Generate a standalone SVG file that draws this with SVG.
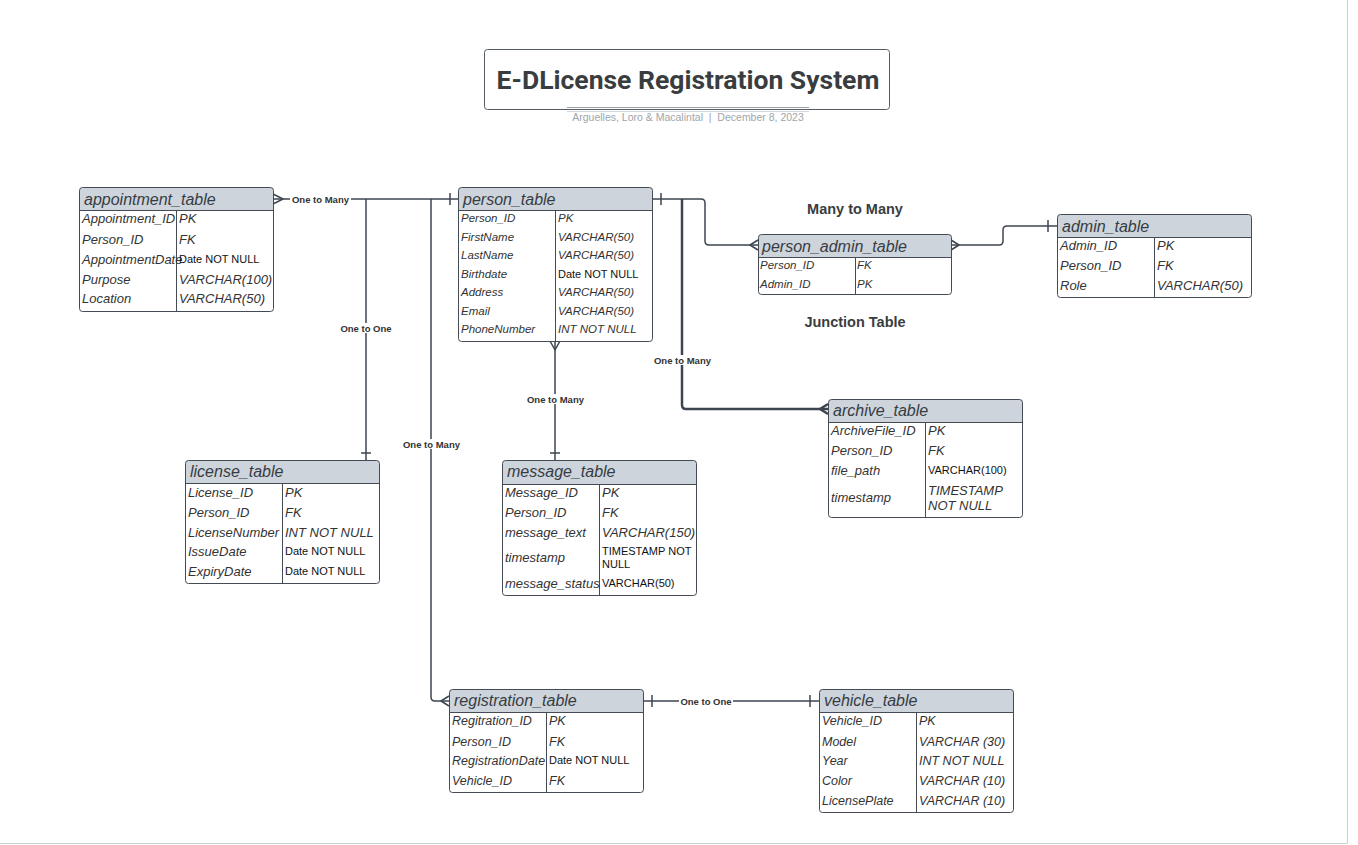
<svg xmlns="http://www.w3.org/2000/svg" width="1358" height="845" viewBox="0 0 1358 845">
<style>
.box{fill:none;stroke:#444b55;stroke-width:1}
.bg{fill:#ffffff}
.hd{fill:#ced4db}
.sep{stroke:#444b55;stroke-width:1}
.h{font-family:"Liberation Sans",Arial,sans-serif;font-style:italic;font-size:16px;fill:#363c44}
.r{font-family:"Liberation Sans",Arial,sans-serif;font-style:italic;font-size:13px;fill:#333333}
.s{font-size:11.5px}
.m{font-size:12.5px}
.n{font-family:"Liberation Sans",Arial,sans-serif;font-size:11px;fill:#111111}
.ln{fill:none;stroke:#3d4550;stroke-width:1.5;stroke-linejoin:round}
.thick{stroke-width:2.5}
.lbg{fill:#ffffff}
.lb{font-family:"Liberation Sans",Arial,sans-serif;font-weight:bold;font-size:9.5px;fill:#333333;text-anchor:middle}
.big{font-family:"Liberation Sans",Arial,sans-serif;font-weight:bold;font-size:14.5px;fill:#3a3d40;text-anchor:middle}
</style>
<rect x="0" y="0" width="1358" height="845" fill="#ffffff"/>
<line x1="1347.5" y1="0" x2="1347.5" y2="843.5" stroke="#d0d0d0" stroke-width="1"/>
<line x1="0" y1="843.5" x2="1347.5" y2="843.5" stroke="#d0d0d0" stroke-width="1"/>

<g id="title">
<rect x="484.5" y="49.5" width="405" height="60" rx="3" fill="#ffffff" stroke="#555b63" stroke-width="1"/>
<text x="688" y="89" font-family="Roboto,'Liberation Sans',sans-serif" font-weight="bold" font-size="26.5" fill="#3a3d40" text-anchor="middle">E-DLicense Registration System</text>
<line x1="567" y1="107.5" x2="809" y2="107.5" stroke="#9aa0a6" stroke-width="1"/>
<line x1="567" y1="111.5" x2="809" y2="111.5" stroke="#d4d8dc" stroke-width="1"/>
<text x="688" y="121" font-family="'Liberation Sans',Arial,sans-serif" font-size="10.5" fill="#a0a5ab" text-anchor="middle">Arguelles, Loro &amp; Macalintal &#160;|&#160; December 8, 2023</text>
</g>

<g id="connectors">
<path class="ln" d="M273,199 H458"/>
<path class="ln" d="M273,194 L283,199 L273,204"/>
<path class="ln" d="M450,193 V205"/>
<rect class="lbg" x="290" y="194" width="61" height="10"/>
<text class="lb" x="320.5" y="202.5">One to Many</text>
<path class="ln" d="M366,199 V460"/>
<path class="ln" d="M361,453 H371"/>
<rect class="lbg" x="339" y="323" width="54" height="10"/>
<text class="lb" x="366" y="331.5">One to One</text>
<path class="ln" d="M431,199 V697 Q431,701 435,701 H449"/>
<path class="ln" d="M449,696 L441,701 L449,706"/>
<rect class="lbg" x="401" y="439" width="61" height="10"/>
<text class="lb" x="431.5" y="447.5">One to Many</text>
<path class="ln" d="M555,341 V460"/>
<path class="ln" d="M550,341 L555,350 L560,341"/>
<path class="ln" d="M550,453 H560"/>
<rect class="lbg" x="525" y="394" width="61" height="10"/>
<text class="lb" x="555.5" y="402.5">One to Many</text>
<path class="ln" d="M652,199 H701 Q705,199 705,203 V241 Q705,245 709,245 H758"/>
<path class="ln" d="M661,193 V205"/>
<path class="ln" d="M758,240 L750,245 L758,250"/>
<path class="ln thick" d="M682,199 V405 Q682,409 686,409 H828"/>
<path class="ln thick" d="M828,404 L820,409 L828,414"/>
<rect class="lbg" x="652" y="355" width="61" height="10"/>
<text class="lb" x="682.5" y="363.5">One to Many</text>
<path class="ln" d="M951,245 H999 Q1003,245 1003,241 V230 Q1003,226 1007,226 H1057"/>
<path class="ln" d="M951,240 L959,245 L951,250"/>
<path class="ln" d="M1048,220 V232"/>
<path class="ln" d="M643,701 H819"/>
<path class="ln" d="M652,695 V707"/>
<path class="ln" d="M810,695 V707"/>
<rect class="lbg" x="679" y="696" width="54" height="10"/>
<text class="lb" x="706" y="704.5">One to One</text>
<text class="big" x="855" y="214">Many to Many</text>
<text class="big" x="855" y="327">Junction Table</text>
</g>

<g id="appointment_table">
<rect class="bg" x="79.5" y="187.5" width="194" height="124" rx="3"/>
<path class="hd" d="M79.5,210.5 V190.5 Q79.5,187.5 82.5,187.5 H270.5 Q273.5,187.5 273.5,190.5 V210.5 Z"/>
<rect class="box" x="79.5" y="187.5" width="194" height="124" rx="3"/>
<line class="sep" x1="79.5" y1="210.5" x2="273.5" y2="210.5"/>
<line class="sep" x1="176.5" y1="210.5" x2="176.5" y2="311.5"/>
<text class="h" x="84" y="204.5">appointment_table</text>
<text class="r" x="82" y="222.5">Appointment_ID</text><text class="r" x="179" y="222.5">PK</text>
<text class="r" x="82" y="243.5">Person_ID</text><text class="r" x="179" y="243.5">FK</text>
<text class="r" x="82" y="263.5">AppointmentDate</text><text class="n" x="179" y="263">Date NOT NULL</text>
<text class="r" x="82" y="283.5">Purpose</text><text class="r" x="179" y="283.5">VARCHAR(100)</text>
<text class="r" x="82" y="302.5">Location</text><text class="r" x="179" y="302.5">VARCHAR(50)</text>
</g>

<g id="person_table">
<rect class="bg" x="458.5" y="187.5" width="194" height="154" rx="3"/>
<path class="hd" d="M458.5,210.5 V190.5 Q458.5,187.5 461.5,187.5 H649.5 Q652.5,187.5 652.5,190.5 V210.5 Z"/>
<rect class="box" x="458.5" y="187.5" width="194" height="154" rx="3"/>
<line class="sep" x1="458.5" y1="210.5" x2="652.5" y2="210.5"/>
<line class="sep" x1="555.5" y1="210.5" x2="555.5" y2="341.5"/>
<text class="h" x="463" y="204.5">person_table</text>
<text class="r s" x="461" y="222">Person_ID</text><text class="r s" x="558" y="222">PK</text>
<text class="r s" x="461" y="241">FirstName</text><text class="r s" x="558" y="241">VARCHAR(50)</text>
<text class="r s" x="461" y="259">LastName</text><text class="r s" x="558" y="259">VARCHAR(50)</text>
<text class="r s" x="461" y="278">Birthdate</text><text class="n" x="558" y="278">Date NOT NULL</text>
<text class="r s" x="461" y="296">Address</text><text class="r s" x="558" y="296">VARCHAR(50)</text>
<text class="r s" x="461" y="315">Email</text><text class="r s" x="558" y="315">VARCHAR(50)</text>
<text class="r s" x="461" y="333">PhoneNumber</text><text class="r s" x="558" y="333">INT NOT NULL</text>
</g>

<g id="person_admin_table">
<rect class="bg" x="758.5" y="234.5" width="193" height="60" rx="3"/>
<path class="hd" d="M758.5,257.5 V237.5 Q758.5,234.5 761.5,234.5 H948.5 Q951.5,234.5 951.5,237.5 V257.5 Z"/>
<rect class="box" x="758.5" y="234.5" width="193" height="60" rx="3"/>
<line class="sep" x1="758.5" y1="257.5" x2="951.5" y2="257.5"/>
<line class="sep" x1="855.5" y1="257.5" x2="855.5" y2="294.5"/>
<text class="h" x="762" y="251.5">person_admin_table</text>
<text class="r s" x="760" y="269">Person_ID</text><text class="r s" x="857" y="269">FK</text>
<text class="r s" x="760" y="288">Admin_ID</text><text class="r s" x="857" y="288">PK</text>
</g>

<g id="admin_table">
<rect class="bg" x="1057.5" y="214.5" width="194" height="83" rx="3"/>
<path class="hd" d="M1057.5,237.5 V217.5 Q1057.5,214.5 1060.5,214.5 H1248.5 Q1251.5,214.5 1251.5,217.5 V237.5 Z"/>
<rect class="box" x="1057.5" y="214.5" width="194" height="83" rx="3"/>
<line class="sep" x1="1057.5" y1="237.5" x2="1251.5" y2="237.5"/>
<line class="sep" x1="1154.5" y1="237.5" x2="1154.5" y2="297.5"/>
<text class="h" x="1062" y="231.5">admin_table</text>
<text class="r" x="1060" y="249.5">Admin_ID</text><text class="r" x="1157" y="249.5">PK</text>
<text class="r" x="1060" y="269.5">Person_ID</text><text class="r" x="1157" y="269.5">FK</text>
<text class="r" x="1060" y="289.5">Role</text><text class="r" x="1157" y="289.5">VARCHAR(50)</text>
</g>

<g id="archive_table">
<rect class="bg" x="828.5" y="399.5" width="194" height="118" rx="3"/>
<path class="hd" d="M828.5,422.5 V402.5 Q828.5,399.5 831.5,399.5 H1019.5 Q1022.5,399.5 1022.5,402.5 V422.5 Z"/>
<rect class="box" x="828.5" y="399.5" width="194" height="118" rx="3"/>
<line class="sep" x1="828.5" y1="422.5" x2="1022.5" y2="422.5"/>
<line class="sep" x1="925.5" y1="422.5" x2="925.5" y2="517.5"/>
<text class="h" x="833" y="415.5">archive_table</text>
<text class="r" x="831" y="434.5">ArchiveFile_ID</text><text class="r" x="928" y="434.5">PK</text>
<text class="r" x="831" y="454.5">Person_ID</text><text class="r" x="928" y="454.5">FK</text>
<text class="r" x="831" y="474.5">file_path</text><text class="n" x="928" y="474">VARCHAR(100)</text>
<text class="r" x="831" y="501.5">timestamp</text><text class="r" x="928" y="494.5">TIMESTAMP</text><text class="r" x="928" y="509.5">NOT NULL</text>
</g>

<g id="license_table">
<rect class="bg" x="185.5" y="460.5" width="194" height="123" rx="3"/>
<path class="hd" d="M185.5,483.5 V463.5 Q185.5,460.5 188.5,460.5 H376.5 Q379.5,460.5 379.5,463.5 V483.5 Z"/>
<rect class="box" x="185.5" y="460.5" width="194" height="123" rx="3"/>
<line class="sep" x1="185.5" y1="483.5" x2="379.5" y2="483.5"/>
<line class="sep" x1="282.5" y1="483.5" x2="282.5" y2="583.5"/>
<text class="h" x="190" y="476.5">license_table</text>
<text class="r" x="188" y="496.5">License_ID</text><text class="r" x="285" y="496.5">PK</text>
<text class="r" x="188" y="516.5">Person_ID</text><text class="r" x="285" y="516.5">FK</text>
<text class="r" x="188" y="536.5">LicenseNumber</text><text class="r" x="285" y="536.5">INT NOT NULL</text>
<text class="r" x="188" y="555.5">IssueDate</text><text class="n" x="285" y="555">Date NOT NULL</text>
<text class="r" x="188" y="575.5">ExpiryDate</text><text class="n" x="285" y="575">Date NOT NULL</text>
</g>

<g id="message_table">
<rect class="bg" x="502.5" y="460.5" width="194" height="135" rx="3"/>
<path class="hd" d="M502.5,484.5 V463.5 Q502.5,460.5 505.5,460.5 H693.5 Q696.5,460.5 696.5,463.5 V484.5 Z"/>
<rect class="box" x="502.5" y="460.5" width="194" height="135" rx="3"/>
<line class="sep" x1="502.5" y1="484.5" x2="696.5" y2="484.5"/>
<line class="sep" x1="599.5" y1="484.5" x2="599.5" y2="595.5"/>
<text class="h" x="507" y="477">message_table</text>
<text class="r" x="505" y="496.5">Message_ID</text><text class="r" x="602" y="496.5">PK</text>
<text class="r" x="505" y="516.5">Person_ID</text><text class="r" x="602" y="516.5">FK</text>
<text class="r" x="505" y="536.5">message_text</text><text class="r" x="602" y="536.5">VARCHAR(150)</text>
<text class="r" x="505" y="561.5">timestamp</text><text class="n" x="602" y="555">TIMESTAMP NOT</text><text class="n" x="602" y="568">NULL</text>
<text class="r" x="505" y="587.5">message_status</text><text class="n" x="602" y="587">VARCHAR(50)</text>
</g>

<g id="registration_table">
<rect class="bg" x="449.5" y="689.5" width="194" height="103" rx="3"/>
<path class="hd" d="M449.5,712.5 V692.5 Q449.5,689.5 452.5,689.5 H640.5 Q643.5,689.5 643.5,692.5 V712.5 Z"/>
<rect class="box" x="449.5" y="689.5" width="194" height="103" rx="3"/>
<line class="sep" x1="449.5" y1="712.5" x2="643.5" y2="712.5"/>
<line class="sep" x1="546.5" y1="712.5" x2="546.5" y2="792.5"/>
<text class="h" x="454" y="706">registration_table</text>
<text class="r m" x="452" y="724.5">Regitration_ID</text><text class="r m" x="549" y="724.5">PK</text>
<text class="r m" x="452" y="745.5">Person_ID</text><text class="r m" x="549" y="745.5">FK</text>
<text class="r m" x="452" y="764.5">RegistrationDate</text><text class="n" x="549" y="764">Date NOT NULL</text>
<text class="r m" x="452" y="784.5">Vehicle_ID</text><text class="r m" x="549" y="784.5">FK</text>
</g>

<g id="vehicle_table">
<rect class="bg" x="819.5" y="689.5" width="194" height="123" rx="3"/>
<path class="hd" d="M819.5,712.5 V692.5 Q819.5,689.5 822.5,689.5 H1010.5 Q1013.5,689.5 1013.5,692.5 V712.5 Z"/>
<rect class="box" x="819.5" y="689.5" width="194" height="123" rx="3"/>
<line class="sep" x1="819.5" y1="712.5" x2="1013.5" y2="712.5"/>
<line class="sep" x1="916.5" y1="712.5" x2="916.5" y2="812.5"/>
<text class="h" x="824" y="706">vehicle_table</text>
<text class="r m" x="822" y="724.5">Vehicle_ID</text><text class="r m" x="919" y="724.5">PK</text>
<text class="r m" x="822" y="745.5">Model</text><text class="r m" x="919" y="745.5">VARCHAR (30)</text>
<text class="r m" x="822" y="764.5">Year</text><text class="r m" x="919" y="764.5">INT NOT NULL</text>
<text class="r m" x="822" y="784.5">Color</text><text class="r m" x="919" y="784.5">VARCHAR (10)</text>
<text class="r m" x="822" y="804.5">LicensePlate</text><text class="r m" x="919" y="804.5">VARCHAR (10)</text>
</g>
</svg>
